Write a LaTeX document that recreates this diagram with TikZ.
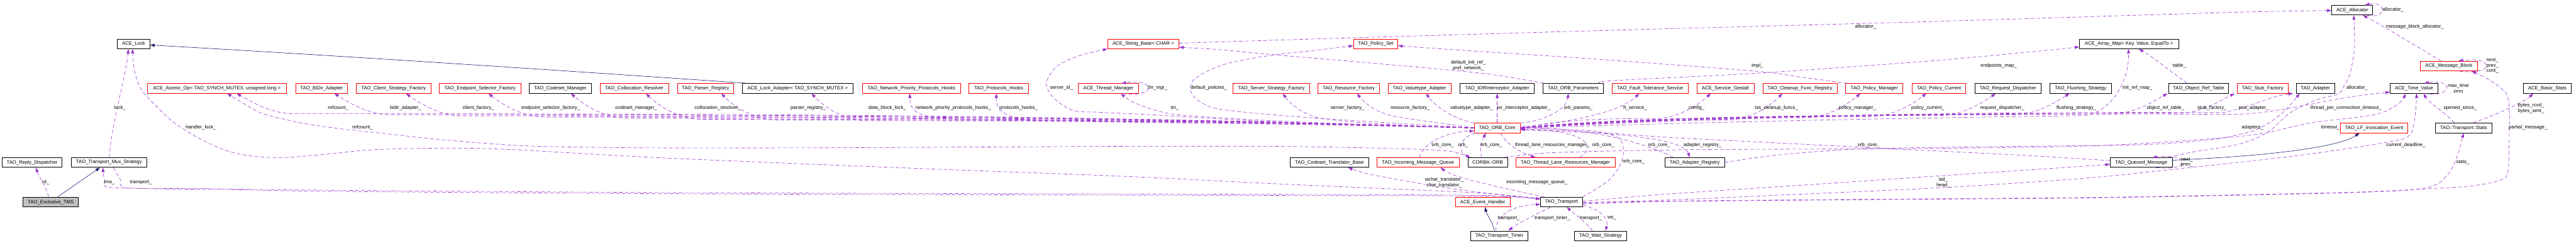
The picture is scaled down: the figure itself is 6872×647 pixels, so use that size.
\documentclass[tikz,border=0pt]{standalone}
\usepackage{fontspec}
\setmainfont{Liberation Sans}
\usetikzlibrary{arrows.meta}
\definecolor{edgepurple}{HTML}{9A32CD}
\definecolor{inhblue}{HTML}{191970}
\definecolor{boxgray}{HTML}{BFBFBF}
\newcommand{\orbleft}[4]{\draw[useedge] (orbcore.west) .. controls ({3933+0.35*(#3+150-3933)},#4) and ({3933+0.7*(#3+150-3933)},#4) .. ({#3+150},#4) .. controls ({#3+90},#4) and ({#3+35},{#4-35}) .. ([xshift=#2]#1.south);}
\newcommand{\orbright}[4]{\draw[useedge] (orbcore.east) .. controls ({4056+0.35*(#3-150-4056)},#4) and ({4056+0.7*(#3-150-4056)},#4) .. ({#3-150},#4) .. controls ({#3-90},#4) and ({#3-35},{#4-35}) .. ([xshift=#2]#1.south);}
\begin{document}
\begin{tikzpicture}[x=1pt,y=-1pt,
  nodebox/.style={draw, line width=1.2pt, minimum height=26pt, inner sep=0pt, font=\fontsize{13}{15}\selectfont},
  redbox/.style={nodebox, draw=red},
  blackbox/.style={nodebox, draw=black},
  graybox/.style={nodebox, draw=black, fill=boxgray},
  useedge/.style={edgepurple, line width=1pt, dash pattern=on 10pt off 6pt, -{Triangle[length=12pt,width=8pt]}},
  inhedge/.style={inhblue, line width=1pt, -{Triangle[length=12pt,width=8pt]}},
  elabel/.style={font=\fontsize{13}{15}\selectfont, inner sep=0pt, align=center}]
\fill[white] (0,0) rectangle (6872,647);
\useasboundingbox (0,0) rectangle (6872,647);

% ---------------- nodes
\node[graybox, minimum width=147.6pt] (excl) at (135.5,538.5) {TAO\_Exclusive\_TMS};
\node[blackbox, minimum width=160pt] (reply) at (85.6,433) {TAO\_Reply\_Dispatcher};
\node[blackbox, minimum width=202pt] (tms) at (290.7,433) {TAO\_Transport\_Mux\_Strategy};
\node[blackbox, minimum width=87pt] (lock) at (356.5,117) {ACE\_Lock};
\node[redbox, minimum width=371pt] (atomic) at (578.5,235.5) {ACE\_Atomic\_Op< TAO\_SYNCH\_MUTEX, unsigned long >};
\node[redbox, minimum width=139pt] (bidir) at (858,235.5) {TAO\_BiDir\_Adapter};
\node[redbox, minimum width=199pt] (csf) at (1050,235.5) {TAO\_Client\_Strategy\_Factory};
\node[redbox, minimum width=217pt] (esf) at (1280.5,235.5) {TAO\_Endpoint\_Selector\_Factory};
\node[blackbox, minimum width=165.5pt] (csm) at (1494.5,235.5) {TAO\_Codeset\_Manager};
\node[redbox, minimum width=183pt] (colres) at (1692,235.5) {TAO\_Collocation\_Resolver};
\node[redbox, minimum width=150pt] (parser) at (1882.4,235.5) {TAO\_Parser\_Registry};
\node[blackbox, minimum width=296pt] (lockad) at (2128,235.5) {ACE\_Lock\_Adapter< TAO\_SYNCH\_MUTEX >};
\node[redbox, minimum width=263pt] (nphooks) at (2431.6,235.5) {TAO\_Network\_Priority\_Protocols\_Hooks};
\node[redbox, minimum width=159pt] (phooks) at (2664,235.5) {TAO\_Protocols\_Hooks};
\node[redbox, minimum width=190pt] (strbase) at (3050,117) {ACE\_String\_Base< CHAR >};
\node[redbox, minimum width=160.5pt] (thrmgr) at (2957,235.5) {ACE\_Thread\_Manager};
\node[redbox, minimum width=203.5pt] (ssf) at (3391.5,235.5) {TAO\_Server\_Strategy\_Factory};
\node[redbox, minimum width=118.4pt] (polset) at (3670,117) {TAO\_Policy\_Set};
\node[redbox, minimum width=164.5pt] (resf) at (3598,235.5) {TAO\_Resource\_Factory};
\node[redbox, minimum width=168pt] (valad) at (3787,235.5) {TAO\_Valuetype\_Adapter};
\node[blackbox, minimum width=197.5pt] (iorad) at (3994,235.5) {TAO\_IORInterceptor\_Adapter};
\node[blackbox, minimum width=160.5pt] (orbparams) at (4197,235.5) {TAO\_ORB\_Parameters};
\node[redbox, minimum width=122.3pt] (orbcore) at (3994,341) {TAO\_ORB\_Core};
\node[blackbox, minimum width=210pt] (cstrans) at (3546.5,433) {TAO\_Codeset\_Translator\_Base};
\node[redbox, minimum width=219pt] (imq) at (3782.7,433) {TAO\_Incoming\_Message\_Queue};
\node[blackbox, minimum width=105.5pt] (orb) at (3968.5,433) {CORBA::ORB};
\node[redbox, minimum width=265pt] (tlrm) at (4176,433) {TAO\_Thread\_Lane\_Resources\_Manager};
\node[redbox, minimum width=145pt] (evh) at (3955.6,538.5) {ACE\_Event\_Handler};
\node[blackbox, minimum width=112pt] (transport) at (4165.5,538.5) {TAO\_Transport};
\node[blackbox, minimum width=152pt] (timer) at (3999.6,628.5) {TAO\_Transport\_Timer};
\node[blackbox, minimum width=140pt] (wait) at (4269.7,628.5) {TAO\_Wait\_Strategy};
\node[redbox, minimum width=203pt] (fts) at (4402,235.5) {TAO\_Fault\_Tolerance\_Service};
\node[redbox, minimum width=152pt] (gestalt) at (4603,235.5) {ACE\_Service\_Gestalt};
\node[redbox, minimum width=197.5pt] (cleanup) at (4801.7,235.5) {TAO\_Cleanup\_Func\_Registry};
\node[redbox, minimum width=152.6pt] (polmgr) at (5000,235.5) {TAO\_Policy\_Manager};
\node[redbox, minimum width=143.4pt] (polcur) at (5172.5,235.5) {TAO\_Policy\_Current};
\node[blackbox, minimum width=158.8pt] (adreg) at (4520.8,433) {TAO\_Adapter\_Registry};
\node[blackbox, minimum width=264.3pt] (amap) at (5679.5,117) {ACE\_Array\_Map< Key, Value, EqualTo >};
\node[blackbox, minimum width=176pt] (reqd) at (5356.5,235.5) {TAO\_Request\_Dispatcher};
\node[blackbox, minimum width=164.4pt] (flush) at (5550.4,235.5) {TAO\_Flushing\_Strategy};
\node[blackbox, minimum width=160.5pt] (ort) at (5865,235.5) {TAO\_Object\_Ref\_Table};
\node[redbox, minimum width=135pt] (stubf) at (6036,235.5) {TAO\_Stub\_Factory};
\node[blackbox, minimum width=103pt] (adapter) at (6176.7,235.5) {TAO\_Adapter};
\node[blackbox, minimum width=109pt] (alloc) at (6275,27) {ACE\_Allocator};
\node[redbox, minimum width=151.7pt] (mblock) at (6532.8,176) {ACE\_Message\_Block};
\node[blackbox, minimum width=127.6pt] (tval) at (6440,235.5) {ACE\_Time\_Value};
\node[blackbox, minimum width=128pt] (bstats) at (6795.6,235.5) {ACE\_Basic\_Stats};
\node[redbox, minimum width=180pt] (lfev) at (6333.4,341) {TAO\_LF\_Invocation\_Event};
\node[blackbox, minimum width=150.6pt] (stats) at (6572,341) {TAO::Transport::Stats};
\node[blackbox, minimum width=165.6pt] (qmsg) at (5712,433) {TAO\_Queued\_Message};

% ---------------- inheritance
\draw[inhedge] ([xshift=18]excl.north) -- ([xshift=-24]tms.south);
\draw[inhedge] ([xshift=14]lockad.north west) .. controls (1500,188) and (900,148) .. ([yshift=-3]lock.east);
\draw[inhedge] ([xshift=-13]timer.north) .. controls (3982,592) and (3966,572) .. ([xshift=6]evh.south);
\draw[inhedge] ([yshift=6]qmsg.east) .. controls (6000,418) and (6230,398) .. ([xshift=-39]lfev.south);

% ---------------- usage, left part
\draw[useedge] ([xshift=-6]excl.north) .. controls (125,500) and (103,470) .. ([xshift=10]reply.south);
\draw[useedge] ([xshift=1]tms.north) .. controls (297,330) and (337,200) .. ([xshift=-14]lock.south);
\draw[useedge] plot[smooth] coordinates {([yshift=9]transport.west) (4030,521) (3905,512) (3430,491) (2999,470) (2580,454) (2149,437) (1730,419) (1299,396) (1018,398) (880,410) (757,420) (673,416) (606,402) (539,373) (466,328) (421,287) (378,240) (359,190) ([xshift=-3]lock.south)};
\draw[useedge] plot[smooth] coordinates {([xshift=12]tms.south) (322,480) (345,501) (600,505) (880,510) (1730,516) (2580,519) (3430,521) (3880,522) (4020,524) ([yshift=8]transport.west)};
\draw[useedge] plot[smooth] coordinates {([yshift=9]transport.west) (4020,523) (3880,520) (3430,518) (2580,516) (1730,513) (880,507) (560,503) (300,500) (279,480) ([xshift=-16]tms.south)};
\draw[useedge] plot[smooth] coordinates {([xshift=-48]orb.north) (3860,402) (3681,395) (3400,390) (3000,390) (2580,392) (2149,394) (1730,394) (1411,389) (1187,373) (1018,355) (923,345) (850,335) (786,324) (701,303) (650,276) ([xshift=27.5]atomic.south)};

% ---------------- ORB_Core bundle to the left
\orbleft{atomic}{52.5}{631}{303}
\orbleft{bidir}{34}{892}{306}
\orbleft{csf}{33}{1083}{309}
\orbleft{esf}{22.5}{1303}{312}
\orbleft{csm}{28.5}{1523}{315}
\orbleft{colres}{31}{1723}{318}
\orbleft{parser}{41.6}{1924}{320}
\orbleft{lockad}{37}{2165}{322}
\draw[useedge] (orbcore.west) .. controls (3400,328) and (2900,324) .. (2560,318) .. controls (2450,314) and (2428,300) .. ([xshift=-4.6]nphooks.south);
\draw[useedge] (orbcore.west) .. controls (3500,330) and (3100,328) .. (2780,322) .. controls (2680,318) and (2657,295) .. ([xshift=-6]phooks.south);
\draw[useedge] (orbcore.west) .. controls (3450,328) and (3200,312) .. (3134,305) .. controls (3080,298) and (3020,275) .. ([xshift=33]thrmgr.south);
\draw[useedge] (orbcore.west) .. controls (3750,336) and (3560,325) .. (3512,313) .. controls (3470,300) and (3440,275) .. ([xshift=30.5]ssf.south);
\draw[useedge] (orbcore.west) .. controls (3880,333) and (3760,318) .. (3710,308) .. controls (3670,298) and (3640,275) .. ([xshift=22]resf.south);
\draw[useedge] (orbcore.north west) .. controls (3880,318) and (3830,285) .. ([xshift=17]valad.south);
\draw[useedge] plot[smooth] coordinates {(orbcore.west) (3430,326) (3055,305) (2930,299) (2864,295) (2814,264) (2791,223) (2819,177) (2880,148) (strbase.south west)};
\draw[useedge] plot[smooth] coordinates {(orbcore.west) (3500,314) (3260,292) (3200,270) (3177,245) (3182,215) (3230,185) (3291,165) (3400,146) (3500,135) ([yshift=-5]polset.west)};
\draw[useedge] (orbcore.north) -- (iorad.south);
\draw[useedge] (orbcore.north east) .. controls (4110,325) and (4178,295) .. ([xshift=-13]orbparams.south);

% ---------------- ORB_Core bundle to the right
\draw[useedge] (orbcore.east) .. controls (4200,322) and (4320,300) .. ([xshift=-29]fts.south);
\orbright{gestalt}{-39}{4564}{316}
\orbright{cleanup}{-46.7}{4755}{320}
\orbright{polmgr}{-37}{4963}{314}
\orbright{polcur}{-33.5}{5139}{311}
\orbright{reqd}{-32.5}{5324}{308}
\orbright{flush}{-29.4}{5521}{306}
\orbright{ort}{-83}{5782}{304}
\orbright{stubf}{-74.5}{5961}{302}
\draw[useedge] (orbcore.east) .. controls (4800,318) and (5300,312) .. (5560,308) .. controls (5630,300) and (5680,220) .. ([xshift=-1.5]amap.south);
\draw[useedge] (orbcore.east) .. controls (4800,300) and (5500,298) .. (5930,300) .. controls (5990,290) and (6060,255) .. ([xshift=-59.7]adapter.south);
\draw[useedge] (orbcore.east) .. controls (4800,298) and (5700,303) .. (5950,305) .. controls (6080,305) and (6200,262) .. ([yshift=-10]tval.west);

% ---------------- around ORB_Core, lower
\draw[useedge] ([xshift=4]imq.north) .. controls (3795,385) and (3850,352) .. ([yshift=-8]orbcore.west);
\draw[useedge] ([xshift=3]orbcore.south west) .. controls (3890,368) and (3888,405) .. ([xshift=-46]orb.north);
\draw[useedge] ([xshift=-16]orb.north) .. controls (3945,392) and (3955,372) .. ([xshift=-30]orbcore.south);
\draw[useedge] ([xshift=9]orbcore.south) .. controls (4018,385) and (4060,408) .. ([xshift=-80]tlrm.north);
\draw[useedge] ([xshift=39]tlrm.north) .. controls (4265,385) and (4220,347) .. ([yshift=-3]orbcore.east);
\draw[useedge] plot[smooth] coordinates {(transport.north east) (4290,482) (4322,440) (4331,400) (4318,368) (4260,350) (4150,344) ([yshift=-1]orbcore.east)};
\draw[useedge] ([xshift=-58]adreg.north) .. controls (4400,385) and (4250,340) .. ([yshift=1]orbcore.east);
\draw[useedge] ([yshift=-6]orbcore.east) .. controls (4300,352) and (4490,368) .. ([xshift=-13]adreg.north);
\draw[useedge] plot[smooth] coordinates {([yshift=5]qmsg.west) (5400,414) (5036,396) (4743,381) (4450,366) (4250,352) (4120,346) ([yshift=-4]orbcore.east)};
\draw[useedge] plot[smooth] coordinates {(adreg.east) (4743,413) (4963,397) (5300,391) (5700,386) (5900,372) (6020,345) (6090,300) ([xshift=-42]adapter.south)};
\draw[useedge] plot[smooth] coordinates {([xshift=45]orb.north) (4140,407) (4500,399) (5100,396) (5600,388) (5980,363) (6115,338) (6173,326) (6338,305) (6400,275) ([xshift=-23]tval.south)};

% ---------------- top area
\draw[useedge] plot[smooth] coordinates {([xshift=-78]orbparams.north) (3990,200) (3849,185) (3600,163) (3400,146) (3250,132) ([yshift=-9]strbase.east)};
\draw[useedge] plot[smooth] coordinates {([xshift=76]orbparams.north) (4300,215) (4688,195) (5130,164) (5400,140) ([yshift=-8]amap.west)};
\draw[useedge] plot[smooth] coordinates {([xshift=-71]polmgr.north) (4800,205) (4688,190) (4250,157) (3900,134) ([yshift=-5]polset.east)};
\draw[useedge] plot[smooth] coordinates {([yshift=2]strbase.east) (3500,104) (4250,82) (5130,58) (5950,33) ([yshift=-1]alloc.west)};
\draw[useedge] ([xshift=-30]ort.north) .. controls (5790,190) and (5740,150) .. ([xshift=26.5]amap.south);
\draw[useedge] plot[smooth] coordinates {([xshift=-10]qmsg.north east) (5850,405) (5974,384) (6050,352) (6110,300) (6180,266) (6238,250) (6256,223) (6270,194) (6281,124) ([xshift=4]alloc.south)};
\draw[useedge] ([xshift=-21]mblock.north) .. controls (6450,125) and (6345,62) .. ([xshift=28]alloc.south);

% ---------------- self loops
\draw[useedge] ([xshift=40]alloc.south) .. controls (6368,52) and (6368,2) .. ([xshift=34]alloc.north);
\draw[useedge] ([xshift=28]mblock.south) .. controls (6655,202) and (6655,150) .. ([xshift=26]mblock.north);
\draw[useedge] ([xshift=27]tval.south) .. controls (6545,262) and (6545,208) .. ([xshift=27]tval.north);
\draw[useedge] ([xshift=39]thrmgr.south) .. controls (3085,262) and (3085,208) .. ([xshift=35]thrmgr.north);
\draw[useedge] ([xshift=39]qmsg.south) .. controls (5845,458) and (5845,408) .. ([xshift=30]qmsg.north);

% ---------------- transport area
\draw[useedge] ([xshift=-46]transport.north) .. controls (4030,505) and (3880,475) .. ([xshift=60]imq.south);
\draw[useedge] plot[smooth] coordinates {([yshift=10]transport.west) (4030,522) (3905,507) (3793,490) (3652,464) ([xshift=49.5]cstrans.south)};
\draw[useedge] ([xshift=-9]timer.north) .. controls (3990,575) and (4030,548) .. ([yshift=-6]transport.west);
\draw[useedge] ([xshift=-29.5]transport.south) .. controls (4100,570) and (4050,595) .. ([xshift=24]timer.north);
\draw[useedge] ([xshift=-22]wait.north) .. controls (4240,600) and (4200,570) .. ([xshift=14]transport.south);
\draw[useedge] ([yshift=-8]transport.east) .. controls (4275,560) and (4292,585) .. ([xshift=13]wait.north);
\draw[useedge] plot[smooth] coordinates {([yshift=2]transport.east) (4450,517) (4816,493) (5183,468) (5500,447) ([yshift=-5]qmsg.west)};
\draw[useedge] plot[smooth] coordinates {([yshift=-1]transport.east) (4450,533) (4816,517) (5183,500) (5550,476) (5818,449) (6126,415) (6362,380) (6432,355) ([xshift=7]tval.south)};
\draw[useedge] plot[smooth] coordinates {([yshift=-4]transport.east) (4450,536) (5000,531) (5600,526) (6250,513) (6479,503) (6597,495) (6673,479) (6691,454) (6694,350) (6694,289) (6685,248) (6644,215) ([xshift=61]mblock.south)};
\draw[useedge] plot[smooth] coordinates {([yshift=-5]transport.east) (4450,537) (5000,532) (5600,527) (6250,514) (6470,501) (6530,465) (6556,413) (stats.south)};
\draw[useedge] ([xshift=-25]stats.north) .. controls (6525,300) and (6480,275) .. ([xshift=25]tval.south);
\draw[useedge] ([xshift=25]stats.north) .. controls (6660,305) and (6730,275) .. ([xshift=-37.6]bstats.south);

% ---------------- labels
\node[elabel] (l01) at (122,485.6) {rd\_};
\node[elabel] (l02) at (320,287.5) {lock\_};
\node[elabel] (l03) at (536,339) {handler\_lock\_};
\node[elabel] (l04) at (292,485.6) {tms\_};
\node[elabel] (l05) at (376,485.6) {transport\_};
\node[elabel] (l06) at (902,287.5) {refcount\_};
\node[elabel] (l07) at (967,339) {refcount\_};
\node[elabel] (l08) at (1082,287.5) {bidir\_adapter\_};
\node[elabel] (l09) at (1276,287.5) {client\_factory\_};
\node[elabel] (l10) at (1469,287.5) {endpoint\_selector\_factory\_};
\node[elabel] (l11) at (1697,287.5) {codeset\_manager\_};
\node[elabel] (l12) at (1914,287.5) {collocation\_resolver\_};
\node[elabel] (l13) at (2156,287.5) {parser\_registry\_};
\node[elabel] (l14) at (2367,287.5) {data\_block\_lock\_};
\node[elabel] (l15) at (2543,287.5) {network\_priority\_protocols\_hooks\_};
\node[elabel] (l16) at (2717,287.5) {protocols\_hooks\_};
\node[elabel] (l17) at (2832,234) {server\_id\_};
\node[elabel] (l18) at (3088,234) {thr\_mgr\_};
\node[elabel] (l19) at (3225,234) {default\_policies\_};
\node[elabel] (l20) at (3134,287.5) {tm\_};
\node[elabel] (l21) at (3595,287.5) {server\_factory\_};
\node[elabel] (l22) at (3762,287.5) {resource\_factory\_};
\node[elabel] (l23) at (3926,287.5) {valuetype\_adapter\_};
\node[elabel] (l24) at (4065,287.5) {ior\_interceptor\_adapter\_};
\node[elabel] (l25) at (4210,287.5) {orb\_params\_};
\node[elabel] (l26) at (3917,174.5) {default\_init\_ref\_\\pref\_network\_};
\node[elabel] (l27) at (4688,174.5) {impl\_};
\node[elabel] (l28) at (4977,70.5) {allocator\_};
\node[elabel] (l29) at (5332,174.5) {endpoints\_map\_};
\node[elabel] (l30) at (5814,174.5) {table\_};
\node[elabel] (l31) at (5702,234) {init\_ref\_map\_};
\node[elabel] (l32) at (4362,287.5) {ft\_service\_};
\node[elabel] (l33) at (4526,287.5) {config\_};
\node[elabel] (l34) at (4739,287.5) {tss\_cleanup\_funcs\_};
\node[elabel] (l35) at (4955,287.5) {policy\_manager\_};
\node[elabel] (l36) at (5143,287.5) {policy\_current\_};
\node[elabel] (l37) at (5341,287.5) {request\_dispatcher\_};
\node[elabel] (l38) at (5539,287.5) {flushing\_strategy\_};
\node[elabel] (l39) at (5777,287.5) {object\_ref\_table\_};
\node[elabel] (l40) at (5901,287.5) {stub\_factory\_};
\node[elabel] (l41) at (6012,287.5) {poa\_adapter\_};
\node[elabel] (l42) at (6258,287.5) {thread\_per\_connection\_timeout\_};
\node[elabel] (l43) at (6288,234) {allocator\_};
\node[elabel] (l44) at (6384,26) {allocator\_};
\node[elabel] (l45) at (6442,70.5) {message\_block\_allocator\_};
\node[elabel] (l46) at (6649,175) {next\_\\prev\_\\cont\_};
\node[elabel] (l47) at (6558,235) {max\_time\\zero};
\node[elabel] (l48) at (6563,287.5) {opened\_since\_};
\node[elabel] (l49) at (6752,289) {bytes\_rcvd\_\\bytes\_sent\_};
\node[elabel] (l50) at (6744,339) {partial\_message\_};
\node[elabel] (l51) at (6217,339) {timeout\_};
\node[elabel] (l52) at (6009,339) {adapters\_};
\node[elabel] (l53) at (6418,386) {current\_deadline\_};
\node[elabel] (l54) at (6570,432) {stats\_};
\node[elabel] (l55) at (3849,386) {orb\_core\_};
\node[elabel] (l56) at (3903,386) {orb\_};
\node[elabel] (l57) at (3978,386) {orb\_core\_};
\node[elabel] (l58) at (4141,386) {thread\_lane\_resources\_manager\_};
\node[elabel] (l59) at (4277,386) {orb\_core\_};
\node[elabel] (l60) at (4426,386) {orb\_core\_};
\node[elabel] (l61) at (4542,386) {adapter\_registry\_};
\node[elabel] (l62) at (4358,431) {orb\_core\_};
\node[elabel] (l63) at (4985,386) {orb\_core\_};
\node[elabel] (l64) at (5834,432.5) {next\_\\prev\_};
\node[elabel] (l65) at (5184,486) {tail\_\\head\_};
\node[elabel] (l66) at (3853,486) {wchar\_translator\_\\char\_translator\_};
\node[elabel] (l67) at (4100,485.6) {incoming\_message\_queue\_};
\node[elabel] (l68) at (4025,581.5) {transport\_};
\node[elabel] (l69) at (4141,581.5) {transport\_timer\_};
\node[elabel] (l70) at (4244,581.5) {transport\_};
\node[elabel] (l71) at (4300,581.5) {ws\_};
\end{tikzpicture}
\end{document}
